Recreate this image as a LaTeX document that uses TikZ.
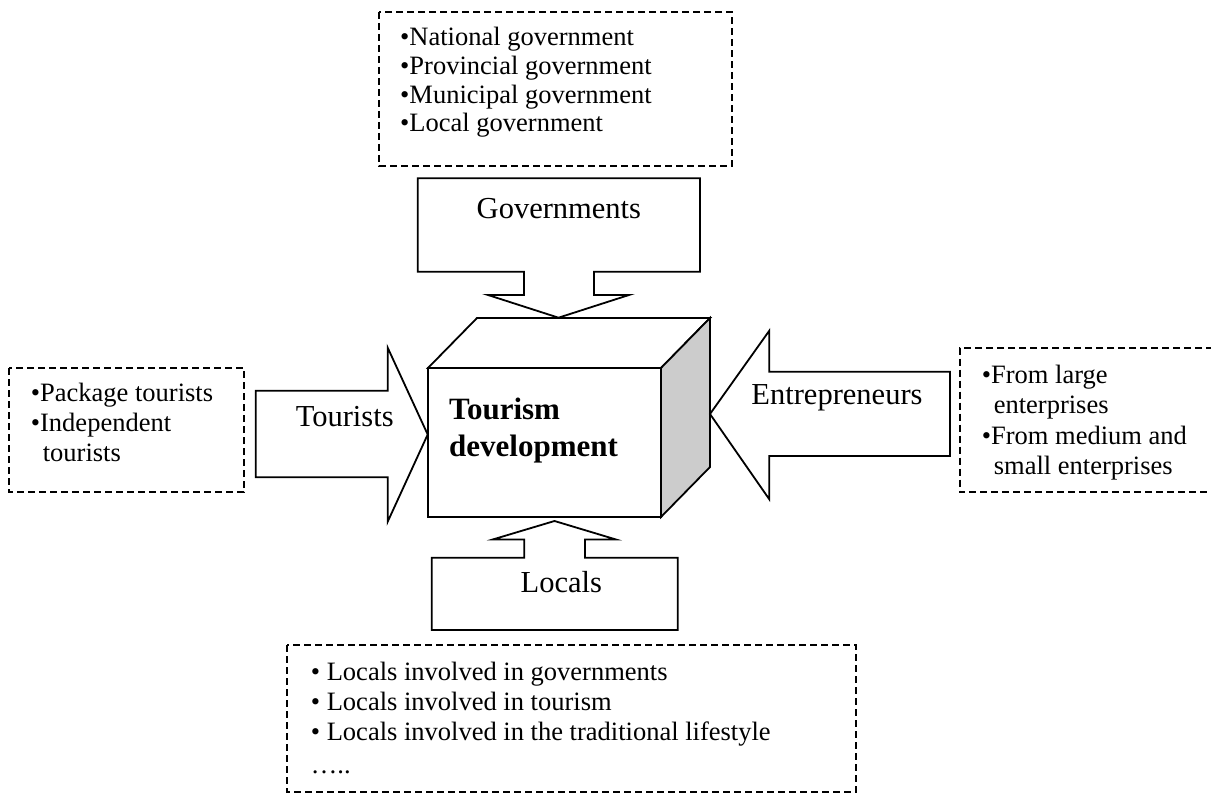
\documentclass[tikz,border=0pt]{standalone}
\usepackage{fontspec}
\setmainfont{Liberation Serif}
\definecolor{cubegray}{RGB}{204,204,204}
\tikzset{
  solidshape/.style={draw=black, line width=1.8pt, fill=white, line join=miter},
  dashbox/.style={draw=black, line width=1.7pt, dash pattern=on 7pt off 4pt},
  lbl/.style={inner sep=0pt, anchor=base, font=\fontsize{30.5}{36}\selectfont},
  lst/.style={inner sep=0pt, anchor=base west}
}
\newcommand{\listfont}[1]{\fontsize{26.5}{#1}\selectfont}
\begin{document}
\begin{tikzpicture}[x=1pt,y=-1pt]
\useasboundingbox (0,0) rectangle (1211,794);

% ---- cube ----
\draw[solidshape] (428,368) -- (477,318) -- (710,318) -- (661,368) -- cycle;
\draw[solidshape, fill=cubegray] (661,368) -- (710,318) -- (710,467) -- (661,517) -- cycle;
\draw[solidshape] (428,368) rectangle (661,517);
\node[lst, font=\fontsize{31}{37}\selectfont\bfseries] (core) at (449,419.3)
  {\begin{tabular}[t]{@{}l@{}}Tourism\\development\end{tabular}};

% ---- Governments arrow ----
\draw[solidshape] (417.7,178.3) -- (700,178.3) -- (700,271.7) -- (594,271.7) -- (594,295)
  -- (629,295) -- (558.5,317.7) -- (488,295) -- (524,295) -- (524,271.7) -- (417.7,271.7) -- cycle;
\node[lbl] (gov) at (558.9,218.3) {Governments};

% ---- Tourists arrow ----
\draw[solidshape] (255.7,390.7) -- (387.7,390.7) -- (387.7,347.7) -- (427.7,434.5)
  -- (387.7,521.7) -- (387.7,477.3) -- (255.7,477.3) -- cycle;
\node[lbl] (tour) at (344.7,426) {Tourists};

% ---- Entrepreneurs arrow ----
\draw[solidshape] (950,371.7) -- (769.3,371.7) -- (769.3,330.7) -- (710,414)
  -- (769.3,499.3) -- (769.3,456) -- (950,456) -- cycle;
\node[lbl] (entr) at (837,405) {Entrepreneurs};

% ---- Locals arrow ----
\draw[solidshape] (431.7,630) -- (431.7,557.7) -- (524.3,557.7) -- (524.3,539.5) -- (492.7,539.5)
  -- (554.5,521) -- (616,539.5) -- (585,539.5) -- (585,557.7) -- (677.7,557.7) -- (677.7,630) -- cycle;
\node[lbl] (loc) at (561.3,592) {Locals};

% ---- dashed boxes ----
\draw[dashbox] (379,12) rectangle (732,166);
\node[lst, font=\listfont{28.6}] (govlist) at (400,46)
  {\begin{tabular}[t]{@{}l@{}}•National government\\•Provincial government\\•Municipal government\\•Local government\end{tabular}};

\draw[dashbox] (9.3,368.3) rectangle (244,492.3);
\node[lst, font=\listfont{30}] (tourlist) at (30.7,401.7)
  {\begin{tabular}[t]{@{}l@{}}•Package tourists\\•Independent\\\hspace*{0.45em}tourists\end{tabular}};

\draw[dashbox] (1213,347.7) -- (960,347.7) -- (960,492.3) -- (1213,492.3);
\node[lst, font=\listfont{30.5}] (entrlist) at (981.7,383.3)
  {\begin{tabular}[t]{@{}l@{}}•From large\\\hspace*{0.45em}enterprises\\•From medium and\\\hspace*{0.45em}small enterprises\end{tabular}};

\draw[dashbox] (287.3,645) rectangle (856,792);
\node[lst, font=\listfont{30}] (loclist) at (310.7,680)
  {\begin{tabular}[t]{@{}l@{}}• Locals involved in governments\\• Locals involved in tourism\\• Locals involved in the traditional lifestyle\end{tabular}};
\node[lst, font=\listfont{30}] (locdots) at (310.7,773) {…..};
\end{tikzpicture}
\end{document}
